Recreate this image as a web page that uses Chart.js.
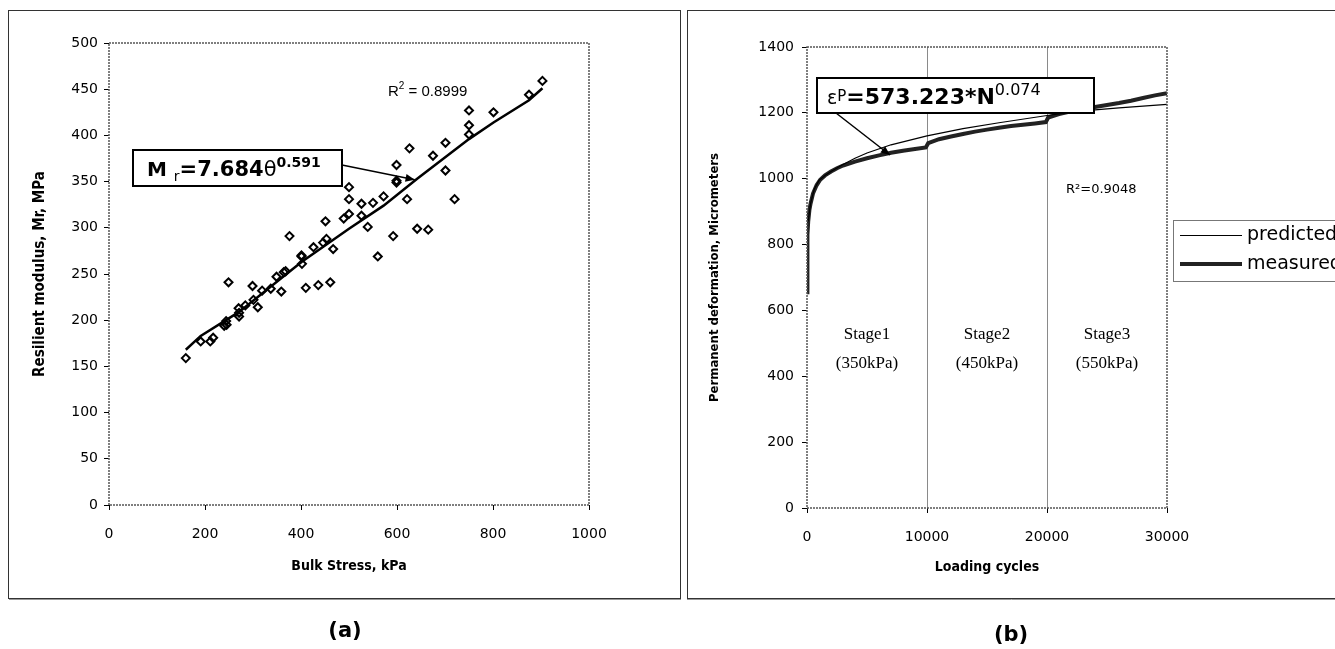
<!DOCTYPE html>
<html><head><meta charset="utf-8">
<script src="https://cdn.jsdelivr.net/npm/chart.js@4.4.1/dist/chart.umd.min.js"></script>
<style>
html,body{margin:0;padding:0;background:#fff;overflow:hidden;width:1335px;height:649px;}
#c1{position:absolute;left:0;top:0;}
#c2{position:absolute;left:684px;top:0;}
</style></head><body>
<canvas id="c1" width="684" height="649"></canvas>
<canvas id="c2" width="651" height="649"></canvas>
<script>
// ---------- Panel (a): resilient modulus vs bulk stress ----------
const bulkStress = [160,191,211,217,240,245,244,249,271,271,270,284,299,301,310,319,337,349,359,364,368,376,401,401,402,410,426,436,446,451,453,461,467,489,500,500,500,526,526,539,550,560,572,592,599,599,599,621,626,642,665,675,701,701,720,750,750,750,801,875,903];
const modulus    = [159,177,177,181,194,195,199,241,204,208,213,216,237,222,214,232,234,247,231,252,253,291,270,269,261,235,279,238,284,307,288,241,277,310,315,331,344,326,313,301,327,269,334,291,368,351,349,331,386,299,298,378,392,362,331,427,411,401,425,444,459];
const trendStress  = [160,191,271,401,500,572,642,750,801,875,903];
const trendModulus = [168,183,209,263,299,324,353,396,414,438,451];
const stressTicks  = [0,200,400,600,800,1000];
const modulusTicks = [0,50,100,150,200,250,300,350,400,450,500];

// ---------- Panel (b): permanent deformation vs loading cycles ----------
const cyclesMeasured = [0,20,50,100,200,300,500,800,1100,1500,2000,2500,3000,4000,5000,6000,7000,8000,9000,9900,10100,11000,12000,13000,14000,15000,16000,17000,18000,19000,19900,20100,21000,22000,23000,24000,25000,26000,27000,28000,29000,30000];
const deformMeasured = [655,760,830,870,905,925,955,980,997,1010,1022,1032,1040,1052,1062,1071,1079,1085,1090,1095,1108,1120,1128,1136,1143,1149,1155,1160,1164,1168,1172,1186,1196,1205,1212,1218,1224,1230,1237,1245,1253,1260];
const cyclesPredicted = [100,300,600,1000,1500,2000,3000,4000,5000,7000,10000,13000,16000,20000,23000,26000,30000];
const deformPredicted = [870,925,968,995,1010,1022,1043,1062,1078,1103,1130,1152,1170,1192,1206,1215,1226];
const cycleTicks  = [0,10000,20000,30000];
const deformTicks = [0,200,400,600,800,1000,1200,1400];
const stageNames  = ['Stage1','Stage2','Stage3'];
const stageLoads  = ['(350kPa)','(450kPa)','(550kPa)'];
const stageCenters = [5000,15000,25000];
const legendNames = ['predicted','measured'];

Chart.defaults.font.family = "'DejaVu Sans', Verdana, sans-serif";
Chart.defaults.font.size = 14;
Chart.defaults.color = '#000';

function rich(ctx, x, y, parts){
  ctx.textBaseline = 'alphabetic'; ctx.textAlign = 'left';
  for (const p of parts){ ctx.font = p.f; ctx.fillText(p.t, x, y + (p.dy||0)); x += ctx.measureText(p.t).width + (p.sp||0); }
  return x;
}
function arrow(ctx, x1, y1, x2, y2, head){
  ctx.beginPath(); ctx.moveTo(x1,y1); ctx.lineTo(x2,y2); ctx.stroke();
  const a = Math.atan2(y2-y1, x2-x1);
  ctx.beginPath(); ctx.moveTo(x2,y2);
  ctx.lineTo(x2 - head*Math.cos(a-0.4), y2 - head*Math.sin(a-0.4));
  ctx.lineTo(x2 - head*Math.cos(a+0.4), y2 - head*Math.sin(a+0.4));
  ctx.closePath(); ctx.fill();
}
function frame(ctx, ca){
  ctx.save();
  ctx.strokeStyle = '#555'; ctx.lineWidth = 1.5; ctx.setLineDash([2,1]);
  ctx.strokeRect(ca.left, ca.top, ca.right-ca.left, ca.bottom-ca.top);
  ctx.restore();
}

const decorA = {
  id: 'decorA',
  beforeDraw(chart){
    const ctx = chart.ctx;
    ctx.save();
    ctx.fillStyle = '#fff'; ctx.fillRect(0,0,chart.width,chart.height);
    ctx.strokeStyle = '#333'; ctx.lineWidth = 1;
    ctx.strokeRect(8.5, 10.5, 672, 588);
    ctx.strokeStyle = '#999'; ctx.beginPath(); ctx.moveTo(9,599.5); ctx.lineTo(681,599.5); ctx.stroke();
    ctx.restore();
  },
  afterDraw(chart){
    const ctx = chart.ctx, ca = chart.chartArea;
    frame(ctx, ca);
    const xs = chart.scales.x, ys = chart.scales.y;
    ctx.save();
    ctx.fillStyle = '#000'; ctx.strokeStyle = '#000';
    rich(ctx, 388, 96, [
      {t:'R', f:"15px 'Liberation Sans'"},
      {t:'2', f:"10px 'Liberation Sans'", dy:-7},
      {t:' = 0.8999', f:"15px 'Liberation Sans'"}
    ]);
    ctx.lineWidth = 1.5;
    arrow(ctx, 342, 165, xs.getPixelForValue(637), ys.getPixelForValue(352), 10);
    ctx.fillStyle = '#fff'; ctx.fillRect(133,150,209,36);
    ctx.lineWidth = 2; ctx.strokeRect(133,150,209,36);
    ctx.fillStyle = '#000';
    rich(ctx, 147, 176, [
      {t:'M ', f:"bold 20px 'DejaVu Sans'"},
      {t:'r', f:"14px 'DejaVu Sans'", dy:5},
      {t:'=7.684', f:"bold 21px 'DejaVu Sans'"},
      {t:'θ', f:"21px 'DejaVu Sans'"},
      {t:'0.591', f:"bold 14px 'DejaVu Sans'", dy:-9}
    ]);
    ctx.font = "bold 21px 'DejaVu Sans'"; ctx.textAlign = 'center'; ctx.textBaseline = 'middle';
    ctx.fillText('(a)', 345, 632);
    ctx.restore();
  }
};

const decorB = {
  id: 'decorB',
  beforeDraw(chart){
    const ctx = chart.ctx;
    ctx.save();
    ctx.fillStyle = '#fff'; ctx.fillRect(0,0,chart.width,chart.height);
    ctx.strokeStyle = '#333'; ctx.lineWidth = 1;
    ctx.strokeRect(3.5, 10.5, 700, 588);
    ctx.strokeStyle = '#999'; ctx.beginPath(); ctx.moveTo(3,599.5); ctx.lineTo(700,599.5); ctx.stroke();
    ctx.restore();
  },
  afterDraw(chart){
    const ctx = chart.ctx, ca = chart.chartArea;
    frame(ctx, ca);
    const xs = chart.scales.x;
    ctx.save();
    ctx.fillStyle = '#000'; ctx.strokeStyle = '#000';
    ctx.font = "17px 'Liberation Serif'"; ctx.textAlign = 'center'; ctx.textBaseline = 'middle';
    stageNames.forEach((s,i) => {
      const x = xs.getPixelForValue(stageCenters[i]);
      ctx.fillText(s, x, 335);
      ctx.fillText(stageLoads[i], x, 364);
    });
    ctx.font = "13px 'DejaVu Sans'"; ctx.textAlign = 'left'; ctx.textBaseline = 'middle';
    ctx.fillText('R²=0.9048', 382, 190);
    ctx.lineWidth = 1.5;
    arrow(ctx, 152, 113, 206, 155, 10);
    ctx.fillStyle = '#fff'; ctx.fillRect(133,78,277,35);
    ctx.lineWidth = 2; ctx.strokeRect(133,78,277,35);
    ctx.fillStyle = '#000';
    rich(ctx, 143, 104, [
      {t:'ε', f:"19px 'DejaVu Sans'"},
      {t:'P', f:"15px 'DejaVu Sans'", dy:-3},
      {t:'=573.223*N', f:"bold 22px 'DejaVu Sans'"},
      {t:'0.074', f:"16px 'DejaVu Sans'", dy:-9}
    ]);
    // legend
    ctx.fillStyle = '#fff'; ctx.fillRect(489,220,200,61);
    ctx.strokeStyle = '#777'; ctx.lineWidth = 1; ctx.strokeRect(489.5,220.5,200,61);
    ctx.strokeStyle = '#000'; ctx.lineWidth = 1.2;
    ctx.beginPath(); ctx.moveTo(496,235.5); ctx.lineTo(558,235.5); ctx.stroke();
    ctx.strokeStyle = '#222'; ctx.lineWidth = 4;
    ctx.beginPath(); ctx.moveTo(496,264); ctx.lineTo(558,264); ctx.stroke();
    ctx.fillStyle = '#000'; ctx.font = "19px 'DejaVu Sans'"; ctx.textAlign = 'left'; ctx.textBaseline = 'middle';
    ctx.fillText(legendNames[0], 563, 235);
    ctx.fillText(legendNames[1], 563, 264);
    ctx.font = "bold 21px 'DejaVu Sans'"; ctx.textAlign = 'center'; ctx.textBaseline = 'middle';
    ctx.fillText('(b)', 327, 636);
    ctx.restore();
  }
};

function pts(xs, ys){ return xs.map((x,i) => ({x, y: ys[i]})); }
const condBold = (size) => ({family:"'DejaVu Sans Condensed', 'DejaVu Sans'", weight:'bold', size});
const plain = v => String(v);

new Chart(document.getElementById('c1'), {
  type: 'scatter',
  data: { datasets: [
    { label:'trend', data: pts(trendStress, trendModulus), showLine:true, borderColor:'#000', borderWidth:2.5, pointRadius:0, tension:0, order:2 },
    { label:'data', data: pts(bulkStress, modulus), pointStyle:'rectRot', pointRadius:4, borderWidth:2, borderColor:'#000', backgroundColor:'rgba(0,0,0,0)', showLine:false, order:1 }
  ]},
  options: {
    responsive:false, animation:false, devicePixelRatio:1,
    layout:{ padding:{ left:0, top:43, right:95, bottom:64 } },
    plugins:{ legend:{display:false}, tooltip:{enabled:false} },
    scales:{
      x:{ type:'linear', min:0, max:1000,
        afterBuildTicks: s => { s.ticks = stressTicks.map(v => ({value:v})); },
        afterFit: s => { s.height = 80; },
        grid:{ drawOnChartArea:false, tickLength:5, color:'#000' }, border:{display:false},
        ticks:{ padding:16, color:'#000', callback: plain },
        title:{ display:true, text:'Bulk Stress, kPa', font:condBold(14), color:'#000', padding:{top:0,bottom:10} } },
      y:{ type:'linear', min:0, max:500,
        afterBuildTicks: s => { s.ticks = modulusTicks.map(v => ({value:v})); },
        afterFit: s => { s.width = 109; },
        grid:{ drawOnChartArea:false, tickLength:5, color:'#000' }, border:{display:false},
        ticks:{ padding:6, color:'#000', callback: plain },
        title:{ display:true, text:'Resilient modulus, Mr, MPa', font:condBold(15), color:'#000', padding:{top:31,bottom:0} } }
    }
  },
  plugins:[decorA]
});

new Chart(document.getElementById('c2'), {
  type: 'scatter',
  data: { datasets: [
    { label:'predicted', data: pts(cyclesPredicted, deformPredicted), showLine:true, borderColor:'#000', borderWidth:1.2, pointRadius:0, tension:0, order:1 },
    { label:'measured', data: pts(cyclesMeasured, deformMeasured), showLine:true, borderColor:'#222', borderWidth:4, pointRadius:0, tension:0, order:2 }
  ]},
  options: {
    responsive:false, animation:false, devicePixelRatio:1,
    layout:{ padding:{ left:0, top:47, right:168, bottom:61 } },
    plugins:{ legend:{display:false}, tooltip:{enabled:false} },
    scales:{
      x:{ type:'linear', min:0, max:30000,
        afterBuildTicks: s => { s.ticks = cycleTicks.map(v => ({value:v})); },
        afterFit: s => { s.height = 80; },
        grid:{ drawOnChartArea:true, tickLength:5, tickColor:'#000',
          color: c => (c.tick && (c.tick.value === 10000 || c.tick.value === 20000)) ? '#8a8a8a' : 'rgba(0,0,0,0)' },
        border:{display:false},
        ticks:{ padding:16, color:'#000', callback: plain },
        title:{ display:true, text:'Loading cycles', font:condBold(14), color:'#000', padding:{top:0,bottom:12} } },
      y:{ type:'linear', min:0, max:1400,
        afterBuildTicks: s => { s.ticks = deformTicks.map(v => ({value:v})); },
        afterFit: s => { s.width = 123; },
        grid:{ drawOnChartArea:false, tickLength:5, color:'#000' }, border:{display:false},
        ticks:{ padding:8, color:'#000', callback: plain },
        title:{ display:true, text:'Permanent deformation, Micrometers', font:condBold(13), color:'#000', padding:{top:23,bottom:0} } }
    }
  },
  plugins:[decorB]
});
</script></body></html>
